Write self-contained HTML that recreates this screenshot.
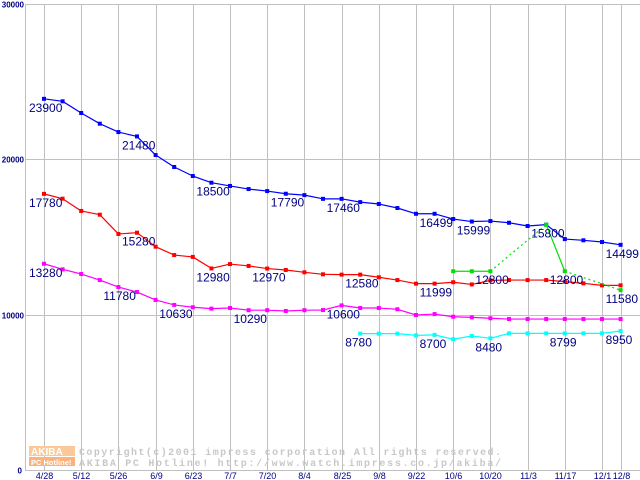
<!DOCTYPE html>
<html><head><meta charset="utf-8"><style>
body{margin:0;background:#fff;}
svg{display:block;font-family:"Liberation Sans",sans-serif;}
</style></head><body>
<svg id="chart" width="640" height="480" viewBox="0 0 640 480" xmlns="http://www.w3.org/2000/svg">
<g id="grid"></g>
<g id="wm">
<rect x="29" y="446" width="46" height="10" fill="#fcc89a"/>
<text x="31" y="455" font-size="10" fill="#fff" font-weight="bold">AKIBA</text>
<rect x="29" y="457" width="46" height="9" fill="#fcb27a"/>
<text x="31" y="465" font-size="7.5" fill="#fff" font-weight="bold">PC Hotline!</text>
<text x="79" y="455" font-size="10" fill="#c8c8c8" font-family="Liberation Mono, monospace" font-weight="bold" textLength="422">Copyright(c)2001 impress corporation All rights reserved.</text>
<text x="79" y="466" font-size="10" fill="#c8c8c8" font-family="Liberation Mono, monospace" font-weight="bold" textLength="422">AKIBA PC Hotline!  http://www.watch.impress.co.jp/akiba/</text>
</g>
<g id="series"></g>
<g id="labels"></g>
</svg>
<script>
const xLabels=["4/28","5/12","5/26","6/9","6/23","7/7","7/20","8/4","8/25","9/8","9/22","10/6","10/20","11/3","11/17","12/1","12/8"];
const xLabelIdx=[0,2,4,6,8,10,12,14,16,18,20,22,24,26,28,30,31];
const yTicks=[0,10000,20000,30000];
const blue=[23900,23740,22990,22300,21760,21480,20280,19510,18930,18500,18290,18090,17960,17790,17700,17460,17460,17250,17130,16870,16499,16499,16160,15999,16030,15920,15710,15800,14870,14790,14680,14499];
const red=[17780,17470,16680,16440,15200,15280,14380,13840,13720,12980,13260,13140,12970,12880,12730,12600,12580,12580,12410,12230,11999,11999,12090,11950,12210,12230,12230,12230,12130,12020,11890,11890];
const magenta=[13280,12920,12620,12230,11780,11460,10950,10630,10480,10390,10430,10290,10290,10240,10290,10300,10600,10430,10430,10350,9980,10040,9870,9830,9770,9720,9720,9720,9720,9720,9720,9720];
const cyan=[null,null,null,null,null,null,null,null,null,null,null,null,null,null,null,null,null,8780,8780,8780,8670,8700,8420,8630,8480,8799,8799,8799,8799,8799,8799,8950];
const green=[null,null,null,null,null,null,null,null,null,null,null,null,null,null,null,null,null,null,null,null,null,null,12800,12800,12800,null,null,15800,12800,null,null,11580];
const blueLabels=[0,5,9,13,16,21,23,27,31];
const redLabels=[0,5,9,12,17,21];
const magentaLabels=[0,4,7,11,16];
const cyanLabels=[17,21,24,28,31];
const greenLabels=[24,28,31];

const NS="http://www.w3.org/2000/svg";
const X=i=>44+18.6*i;
const Y=v=>470-v*0.01553;
function mk(tag,attrs,parent){const e=document.createElementNS(NS,tag);for(const k in attrs)e.setAttribute(k,attrs[k]);parent.appendChild(e);return e;}
const grid=document.getElementById('grid'),ser=document.getElementById('series'),lab=document.getElementById('labels');
yTicks.forEach(t=>{
  const y=Math.round(Y(t))+0.5;
  if(t>0){const l=mk('line',{x1:25,x2:640,y1:y,y2:y,stroke:'#c0c0c0','stroke-width':1},grid);
  
  }
  const tx=mk('text',{x:t===0?22:24,y:y+3,'font-size':8,'font-weight':'bold',fill:'#000080','text-anchor':'end'},grid);
  tx.textContent=t;
  
  
});
xLabelIdx.forEach((idx,k)=>{
  const x=Math.round(X(idx))+0.5;
  const l=mk('line',{x1:x,x2:x,y1:4,y2:470,stroke:'#c0c0c0','stroke-width':1},grid);
  
  
  const tx=mk('text',{x:x,y:479,'font-size':9,fill:'#000080','text-anchor':'middle'},grid);
  tx.textContent=xLabels[k];
  
  
});
const ax=mk('line',{x1:25.5,x2:25.5,y1:4,y2:470,stroke:'#c0c0c0','stroke-width':1},grid);


const bx=mk('line',{x1:25,x2:640,y1:470.5,y2:470.5,stroke:'#c0c0c0','stroke-width':1},grid);



function draw(data,color,name,lbls){
  const g=mk('g',{},ser);
  
  
  let prev=-1;
  data.forEach((v,i)=>{
    if(v===null)return;
    if(prev>=0){
      const a={x1:X(prev),y1:Y(data[prev]),x2:X(i),y2:Y(v),stroke:color,'stroke-width':1.2};
      if(i-prev>1)a['stroke-dasharray']='2,3';
      const l=mk('line',a,g);
      
      
    }
    prev=i;
  });
  data.forEach((v,i)=>{
    if(v===null)return;
    const r=mk('rect',{x:X(i)-2,y:Y(v)-2,width:4,height:4,fill:color},g);
    
    
  });
  lbls.forEach(i=>{
    const t=mk('text',{x:X(i)-15,y:Y(data[i])+13,'font-size':12,fill:'#000080'},lab);
    t.textContent=data[i];
    
    
  });
}
draw(blue,'#0000ff','blue',blueLabels);
draw(red,'#ff0000','red',redLabels);
draw(magenta,'#ff00ff','magenta',magentaLabels);
draw(cyan,'#00ffff','cyan',cyanLabels);
draw(green,'#00e000','green',greenLabels);
</script>
</body></html>
